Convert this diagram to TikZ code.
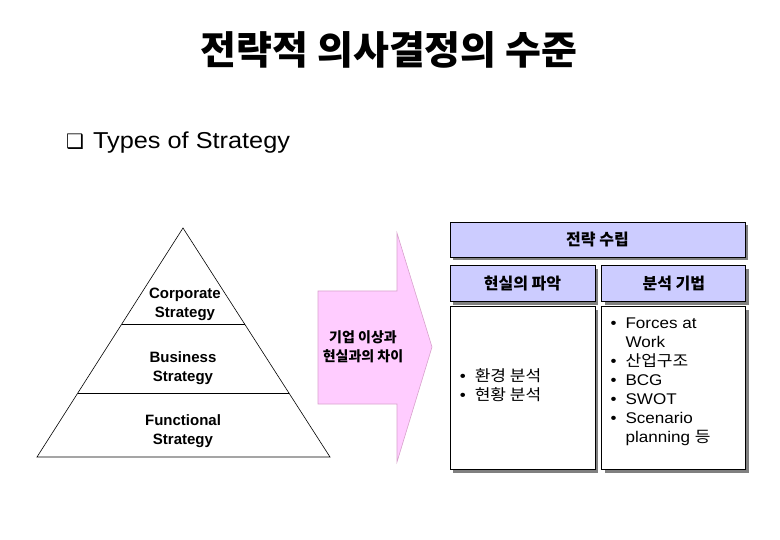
\documentclass[tikz,border=0pt]{standalone}
\usepackage{fontspec}
\setmainfont{Liberation Sans}
\newfontfamily\widesans{Liberation Sans}[FakeStretch=1.1]
\newfontfamily\kr{Noto Sans CJK KR}
\newfontfamily\krwide{Noto Sans CJK KR}[FakeStretch=1.1]
\newfontfamily\symfont{DejaVu Sans}
\definecolor{planblue}{HTML}{CCCCFF}
\definecolor{gappink}{HTML}{FFCCFF}
\definecolor{gapline}{HTML}{D8A2CC}
\definecolor{shadowgray}{HTML}{808080}
\usetikzlibrary{positioning, calc, shadows}
\tikzset{
  hdrbox/.style={draw=black, line width=0.8pt, fill=planblue,
                 drop shadow={shadow xshift=3pt, shadow yshift=-3pt, fill=shadowgray, opacity=1},
                 font=\kr\bfseries\fontsize{16}{19}\selectfont, align=center, inner sep=2pt},
  cbox/.style={draw=black, line width=0.8pt, fill=white,
               drop shadow={shadow xshift=3pt, shadow yshift=-3pt, fill=shadowgray, opacity=1},
               minimum height=163pt, inner sep=0pt},
  lvl/.style={font=\bfseries\fontsize{15}{19}\selectfont, align=center, inner sep=0pt},
  listtxt/.style={font=\widesans\fontsize{15.5}{19}\selectfont, align=left, inner sep=0pt},
  pyr/.style={line width=0.6pt, black},
}

\begin{document}
\begin{tikzpicture}[x=1pt, y=-1pt]
  \useasboundingbox (0,0) rectangle (780,540);

  %% ── Title ────────────────────────────────────────────────────────────────
  \node[font=\kr\bfseries\fontsize{39}{44}\selectfont] (title) at (389,50)
    {전략적 의사결정의 수준};
  \node[anchor=base west, font=\widesans\fontsize{23}{26}\selectfont, inner sep=0pt]
    (types) at (66,149) {{\symfont\fontsize{20}{24}\selectfont ❑}\hspace{9pt}Types of Strategy};

  %% ── Pyramid (left) ───────────────────────────────────────────────────────
  \coordinate (apex) at (183,228);
  \coordinate (bl) at (37,457);
  \coordinate (br) at (330,457);
  \draw[pyr] (bl) -- (apex) -- (br) -- cycle;
  \draw[pyr] ($(apex)!0.42!(bl)$) -- ($(apex)!0.42!(br)$);
  \draw[pyr] ($(apex)!0.72!(bl)$) -- ($(apex)!0.72!(br)$);

  \node[lvl] (corp) at (185,304) {Corporate\\Strategy};
  \node[lvl] (bus)  at (183,368) {Business\\Strategy};
  \node[lvl] (func) at (183,431) {Functional\\Strategy};

  %% ── Gap arrow (middle) ───────────────────────────────────────────────────
  \filldraw[fill=gappink, draw=gapline, line width=0.6pt]
    (318,291) -- (397,291) -- (397,233) -- (432,347)
    -- (397,462) -- (397,404) -- (318,404) -- cycle;
  \node[font=\kr\bfseries\fontsize{14}{19}\selectfont, align=center, inner sep=0pt]
    (gap) at (363,347) {기업 이상과\\현실과의 차이};

  %% ── Strategy planning (right) ────────────────────────────────────────────
  \node[hdrbox, minimum width=295pt, minimum height=35pt] (plan) at (597.5,239.5)
    {전략 수립};
  \node[hdrbox, minimum width=145pt, minimum height=36pt,
        below right=8pt and 0pt of plan.south west] (real) {현실의 파악};
  \node[hdrbox, minimum width=144pt, minimum height=36pt,
        right=6pt of real] (tech) {분석 기법};

  \node[cbox, minimum width=145pt, below=4pt of real] (realbox) {};
  \node[cbox, minimum width=144pt, below=4pt of tech] (techbox) {};

  \node[listtxt, anchor=west] (reallist) at ($(realbox.west)+(10pt,1pt)$)
    {\begin{tabular}{@{}l@{\hspace{9pt}}l@{}}
       • & {\krwide 환경 분석}\\
       • & {\krwide 현황 분석}
     \end{tabular}};

  \node[listtxt, below right=9pt and 9pt of techbox.north west] (techlist)
    {\begin{tabular}{@{}l@{\hspace{9pt}}l@{}}
       • & Forces at\\
         & Work\\
       • & {\krwide 산업구조}\\
       • & BCG\\
       • & SWOT\\
       • & Scenario\\
         & planning {\krwide 등}
     \end{tabular}};

\end{tikzpicture}
\end{document}
